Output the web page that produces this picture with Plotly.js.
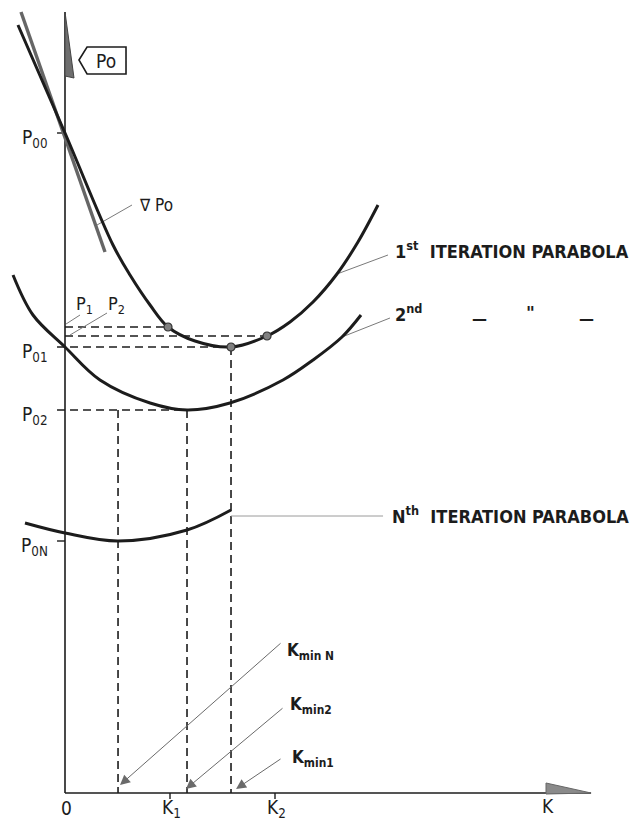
<!DOCTYPE html>
<html>
<head>
<meta charset="utf-8">
<script src="https://cdn.plot.ly/plotly-3.0.1.min.js"></script>
<style>
  html, body { margin: 0; padding: 0; background: #fff; }
  #chart { width: 639px; height: 829px; }
</style>
</head>
<body>
<div id="chart"></div>
<script>
// Cost function Po against step length K: successive iteration parabolas.

// Characteristic levels of Po and step lengths K
const P00 = 6.60, P01 = 4.46, P02 = 3.83, P0N = 2.52;
const P1 = 4.66, P2 = 4.57;
const K1 = 1, K2 = 2;
const KMIN_1 = 1.581, KMIN_2 = 1.162, KMIN_N = 0.505;

// 1st iteration parabola
const para1K = [-0.448, 0.0, 0.457, 0.619, 0.810, 0.981, 1.238, 1.581, 1.924, 2.143, 2.362, 2.590, 2.790, 2.981];
const para1P = [7.68, 6.60, 5.48, 5.18, 4.88, 4.66, 4.52, 4.46, 4.57, 4.71, 4.91, 5.19, 5.51, 5.88];

// Gradient of Po at K = 0
const gradK = [-0.419, 0.381];
const gradP = [7.81, 5.41];

// 2nd iteration parabola
const para2K = [-0.495, -0.305, 0.0, 0.333, 0.810, 1.162, 1.571, 2.076, 2.362, 2.638, 2.819];
const para2P = [5.18, 4.78, 4.46, 4.13, 3.90, 3.83, 3.90, 4.13, 4.33, 4.56, 4.78];

// Nth iteration parabola
const paraNK = [-0.381, 0.0, 0.505, 1.162, 1.581];
const paraNP = [2.70, 2.60, 2.52, 2.63, 2.83];

// Sample points on the 1st parabola
const sampleK = [0.981, 1.924, 1.581];
const sampleP = [P1, P2, P01];

// Tick labels
const kTickVals = [0, K1, K2];
const kTickText = ['0', 'K<sub>1</sub>', 'K<sub>2</sub>'];
const pTickVals = [P00, P01, P02, P0N];
const pTickText = ['P<sub>00</sub>', 'P<sub>01</sub>', 'P<sub>02</sub>', 'P<sub>0N</sub>'];

const INK = '#1c1c1c';
const GREY = '#7a7a7a';
const LABEL_FONT = '"Liberation Sans Narrow", "DejaVu Sans Condensed", "Arial Narrow", "Liberation Sans", sans-serif';
const BOLD_FONT = '"Liberation Sans Narrow", "DejaVu Sans Condensed", "Arial Narrow", "Liberation Sans", sans-serif';

const curve = (x, y, color, width) => ({
  x, y, type: 'scatter', mode: 'lines',
  line: { color, width, shape: 'spline', smoothing: 1 },
  hoverinfo: 'skip', showlegend: false
});

const traces = [
  curve(gradK, gradP, '#666666', 3.4),
  curve(para1K, para1P, INK, 3),
  curve(para2K, para2P, INK, 3),
  curve(paraNK, paraNP, INK, 3),
  {
    x: sampleK, y: sampleP, type: 'scatter', mode: 'markers',
    marker: { size: 8, color: '#808080', line: { color: '#333', width: 1.2 } },
    hoverinfo: 'skip', showlegend: false
  }
];

const shapes = [];
const line = (x0, y0, x1, y1, color, width, dash) =>
  shapes.push({ type: 'line', xref: 'x', yref: 'y', x0, y0, x1, y1,
    line: { color, width, dash: dash || 'solid' }, layer: 'below' });

// Axes
const AXIS_TOP = 7.81, AXIS_RIGHT = 5.01;
line(0, 0, 0, AXIS_TOP, INK, 1.6);
line(0, 0, AXIS_RIGHT, 0, INK, 1.6);

// Axis arrow wedges
const path = (xs, ys) => 'M' + xs.map((x, i) => x + ',' + ys[i]).join(' L') + ' Z';
shapes.push({ type: 'path', xref: 'x', yref: 'y',
  path: path([0, 0.0857, 0.0, 0], [AXIS_TOP, 7.15, 7.17, AXIS_TOP]),
  fillcolor: '#6e6e6e', line: { color: '#444', width: 1 } });
shapes.push({ type: 'path', xref: 'x', yref: 'y',
  path: path([4.581, AXIS_RIGHT, 4.581], [0.10, 0, -0.01]),
  fillcolor: '#8a8a8a', line: { color: '#666', width: 1 } });

// Axis ticks
[K1, K2].forEach(k => line(k, 0, k, -0.06, INK, 1.4));
[P00, P0N].forEach(p => line(-0.076, p, 0, p, INK, 1.4));

// Dashed construction lines
const DASH = '8px,5px';
line(0, P1, sampleK[0], P1, INK, 1.6, DASH);
line(0, P2, sampleK[1], P2, INK, 1.6, DASH);
line(-0.076, P01, KMIN_1, P01, INK, 1.6, DASH);
line(-0.076, P02, KMIN_2, P02, INK, 1.6, DASH);
line(KMIN_N, P02, KMIN_N, 0, INK, 1.6, DASH);
line(KMIN_2, P02, KMIN_2, 0, INK, 1.6, DASH);
line(KMIN_1, P01, KMIN_1, 0, INK, 1.6, DASH);

// Leader lines to labels
line(2.590, 5.19, 3.076, 5.38, GREY, 1);
line(2.638, 4.56, 3.095, 4.75, GREY, 1);
line(KMIN_1, 2.77, 3.029, 2.77, '#9a9a9a', 1);
line(0.305, 5.68, 0.638, 5.88, GREY, 1);
line(0.01, 4.69, 0.143, 4.78, GREY, 1);
line(0.048, 4.58, 0.40, 4.80, GREY, 1);

// Po tag on the vertical axis
shapes.push({ type: 'path', xref: 'x', yref: 'y',
  path: path([0.133, 0.21, 0.581, 0.581, 0.21], [7.33, 7.46, 7.46, 7.19, 7.19]),
  fillcolor: 'rgba(0,0,0,0)', line: { color: INK, width: 1.6 } });

const annotations = [];
const text = (x, y, t, opts) => annotations.push(Object.assign({
  x, y, text: t, xref: 'x', yref: 'y', showarrow: false,
  xanchor: 'center', yanchor: 'middle',
  font: { family: LABEL_FONT, size: 19, color: INK }
}, opts || {}));

// K axis labels
kTickVals.forEach((k, i) => text(k + 0.01, -0.15, kTickText[i]));
text(4.6, -0.13, 'K');

// Po axis labels
pTickVals.forEach((p, i) => text(-0.14, p - 0.05, pTickText[i], { xanchor: 'right' }));
text(0.39, 7.32, 'Po', { font: { family: LABEL_FONT, size: 19, color: INK } });
text(0.686, 5.88, '\u2207 Po', { xanchor: 'left', font: { family: LABEL_FONT, size: 17, color: INK } });
text(0.181, 4.88, 'P<sub>1</sub>', { font: { family: LABEL_FONT, size: 18, color: INK } });
text(0.495, 4.88, 'P<sub>2</sub>', { font: { family: LABEL_FONT, size: 18, color: INK } });

// Parabola captions
const bold = { family: BOLD_FONT, size: 18, color: INK, weight: 'bold' };
const dashMark = { family: '"DejaVu Sans", sans-serif', size: 15, color: INK, weight: 'bold' };
const dittoMark = { family: '"DejaVu Sans", sans-serif', size: 17, color: INK, weight: 'bold' };
text(3.124, 5.43, '1<sup>st</sup>  ITERATION PARABOLA', { xanchor: 'left', font: bold });
text(3.124, 4.80, '2<sup>nd</sup>', { xanchor: 'left', font: bold });
text(3.943, 4.74, '\u2014', { font: dashMark });
text(4.429, 4.80, '<i>"</i>', { font: dittoMark });
text(4.962, 4.74, '\u2014', { font: dashMark });
text(3.095, 2.78, 'N<sup>th</sup>  ITERATION PARABOLA', { xanchor: 'left', font: bold });

// Minimum step lengths
const kmin = { family: BOLD_FONT, size: 17, color: INK, weight: 'bold' };
text(2.095, 1.42, 'K<sub>min N</sub>', { xanchor: 'left', font: kmin });
text(2.124, 0.88, 'K<sub>min2</sub>', { xanchor: 'left', font: kmin });
text(2.143, 0.35, 'K<sub>min1</sub>', { xanchor: 'left', font: kmin });

const arrow = (x, y, ax, ay) => annotations.push({
  x, y, ax, ay, xref: 'x', yref: 'y', axref: 'x', ayref: 'y',
  text: '', showarrow: true, arrowhead: 2, arrowsize: 2, arrowwidth: 1,
  arrowcolor: '#6a6a6a', standoff: 0, startstandoff: 0
});
arrow(KMIN_N + 0.019, 0.08, 2.067, 1.51);
arrow(KMIN_2 - 0.010, 0.04, 2.086, 0.86);
arrow(KMIN_1 + 0.048, 0.04, 2.067, 0.35);

const layout = {
  width: 639, height: 829,
  margin: { l: 0, r: 0, t: 0, b: 0 },
  paper_bgcolor: '#ffffff', plot_bgcolor: '#ffffff',
  xaxis: { range: [-65 / 105, 574 / 105], visible: false, fixedrange: true },
  yaxis: { range: [-0.36, 7.93], visible: false, fixedrange: true },
  shapes, annotations, showlegend: false
};

Plotly.newPlot('chart', traces, layout, { staticPlot: true, displayModeBar: false });
</script>
</body>
</html>
